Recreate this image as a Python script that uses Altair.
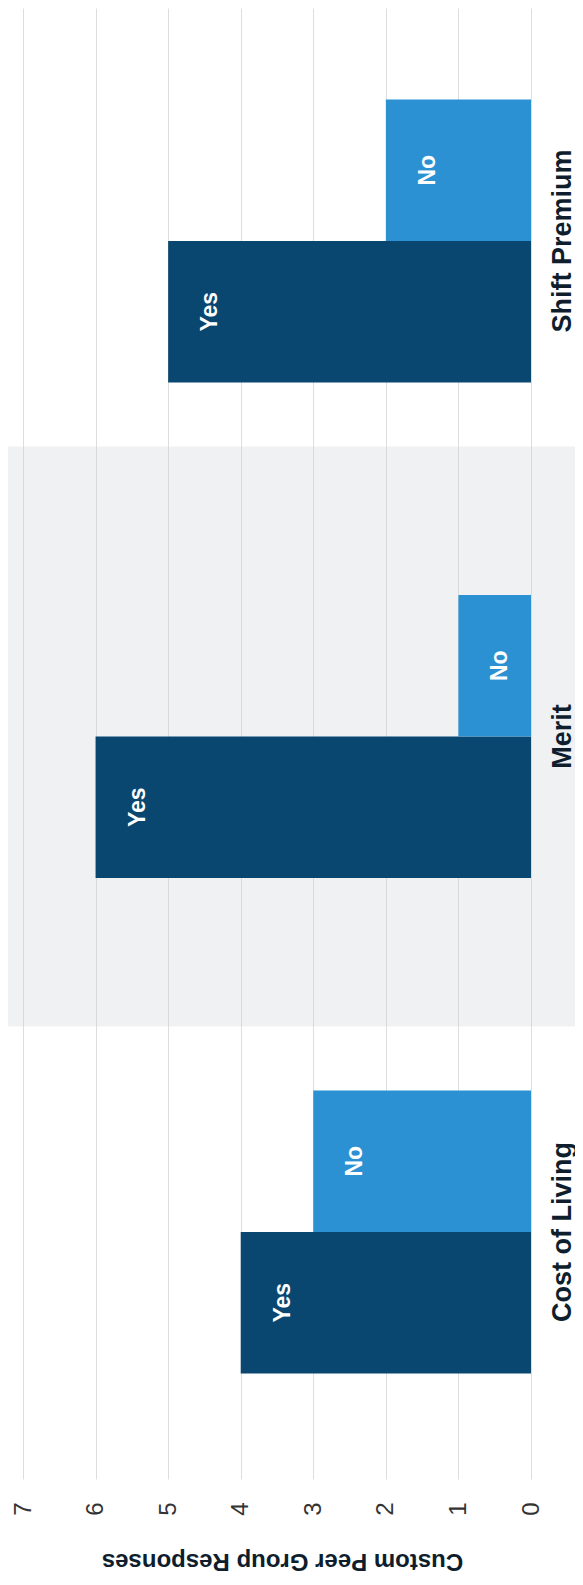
import altair as alt
import pandas as pd

categories = ["Shift Premium", "Merit", "Cost of Living"]
yes_values = [5, 6, 4]
no_values = [2, 1, 3]
answers = ["No", "Yes"]
x_ticks = [0, 1, 2, 3, 4, 5, 6, 7]
highlighted = ["Merit"]

rows = []
for c, y, n in zip(categories, yes_values, no_values):
    rows.append({"cat": c, "answer": "Yes", "value": y})
    rows.append({"cat": c, "answer": "No", "value": n})
df = pd.DataFrame(rows)
band_df = pd.DataFrame({"cat": highlighted})

FONT = "Liberation Sans"
DARK = "#0f1e2d"

W = 508
H = 1471

yscale = alt.Scale(domain=categories, paddingInner=0.4289, paddingOuter=0.1988, align=0.4645)
xscale = alt.Scale(domain=[0, 7], reverse=True, nice=False)

y_enc = alt.Y(
    "cat:N",
    scale=yscale,
    sort=categories,
    axis=alt.Axis(
        orient="right",
        title=None,
        labelAngle=270,
        labelAlign="center",
        labelBaseline="top",
        labelPadding=18,
        labelFontSize=27,
        labelFontWeight="bold",
        labelColor=DARK,
        labelFont=FONT,
        labelLimit=0,
        ticks=False,
        domain=False,
        grid=False,
        zindex=1,
    ),
)

x_enc = alt.X(
    "value:Q",
    scale=xscale,
    axis=alt.Axis(
        values=x_ticks,
        format="d",
        orient="bottom",
        labelAngle=270,
        labelAlign="right",
        labelBaseline="middle",
        labelPadding=23,
        labelFontSize=24,
        labelColor="#333333",
        labelFont=FONT,
        ticks=False,
        domain=False,
        grid=True,
        gridColor="#dddddd",
        title="Custom Peer Group Responses",
        titleAngle=180,
        titleFontSize=24,
        titleFontWeight="bold",
        titleColor=DARK,
        titleFont=FONT,
        titleX=259,
        titleY=81,
        titleAlign="center",
        titleBaseline="middle",
    ),
)

band = (
    alt.Chart(band_df)
    .mark_bar(height=580, color="rgb(205,208,215)", opacity=0.3, orient="horizontal")
    .encode(
        y=alt.Y("cat:N", scale=yscale, sort=categories),
        x=alt.value(-15),
        x2=alt.value(560),
    )
)

bars = (
    alt.Chart(df)
    .mark_bar()
    .encode(
        y=y_enc,
        x=x_enc,
        yOffset=alt.YOffset("answer:N", sort=answers, scale=alt.Scale(domain=answers)),
        color=alt.Color(
            "answer:N",
            scale=alt.Scale(domain=["Yes", "No"], range=["#0a4770", "#2b91d2"]),
            legend=None,
        ),
    )
)

labels = (
    alt.Chart(df)
    .mark_text(
        angle=270,
        align="center",
        baseline="middle",
        dy=42,
        fontSize=23,
        fontWeight="bold",
        color="white",
        font=FONT,
    )
    .encode(
        y=alt.Y("cat:N", scale=yscale, sort=categories),
        x=alt.X("value:Q", scale=xscale),
        yOffset=alt.YOffset("answer:N", sort=answers, scale=alt.Scale(domain=answers)),
        text="answer:N",
    )
)

chart = (
    alt.layer(band, bars, labels)
    .properties(
        width=W,
        height=H,
        padding={"left": 15, "top": 0, "right": 44, "bottom": 96},
        autosize=alt.AutoSizeParams(type="none"),
    )
    .configure_view(stroke=None)
)

chart.save("out.html", embed_options={"renderer": "svg", "actions": False})
